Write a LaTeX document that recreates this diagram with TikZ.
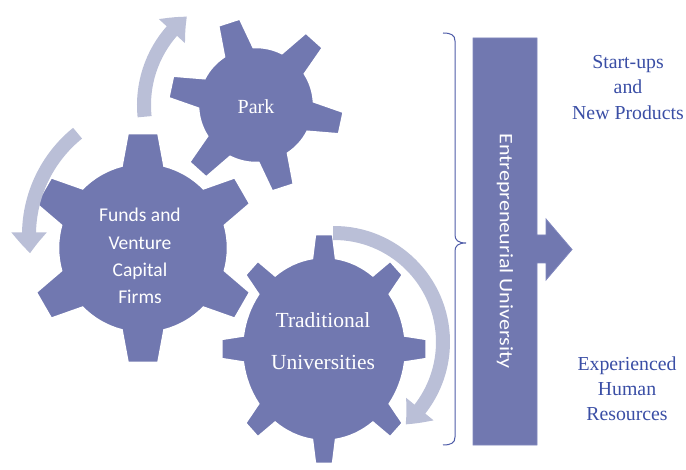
\documentclass[tikz,border=0pt]{standalone}
\usepackage{fontspec}
\setmainfont{Liberation Serif}
\newfontfamily\carlito{Carlito}
\usetikzlibrary{arrows.meta,bending}

\definecolor{gearfill}{RGB}{113,120,176}
\definecolor{gearedge}{RGB}{128,135,190}
\definecolor{softblue}{RGB}{186,191,215}
\definecolor{textblue}{RGB}{58,78,165}
\definecolor{braceblue}{RGB}{78,92,168}

% closed gear outline: #1 teeth, #2 rotation, #3 body radius,
% #4 tip radius, #5 half angle of a tooth at its base, #6 half angle at its tip
\newcommand\gearpath[6]{%
  ({#2-#5}:#3)
  \foreach \k in {1,...,#1}{
    -- ({#2+(\k-1)*360/#1-#6}:#4)
    -- ({#2+(\k-1)*360/#1+#6}:#4)
    -- ({#2+(\k-1)*360/#1+#5}:#3)
    arc[start angle={#2+(\k-1)*360/#1+#5}, end angle={#2+\k*360/#1-#5}, radius=#3]
  } -- cycle
}

\tikzset{
  gear/.style={fill=gearfill, draw=white, line width=2.5pt, line join=miter},
  turnarrow/.style={draw=softblue, line width=14pt,
    -{Triangle[width=34pt,length=21pt,bend]}},
  serifwhite/.style={text=white, align=center},
  sanswhite/.style={text=white, align=center, font=\carlito\fontsize{19.5}{27.3}\selectfont},
  outtext/.style={text=textblue, align=center, font=\rmfamily\fontsize{19.8}{25.2}\selectfont},
}

\begin{document}
\begin{tikzpicture}[x=1pt,y=1pt]
\useasboundingbox (0,0) rectangle (686,469);

% gear centres
\coordinate (parkc) at (256,364);
\coordinate (fundsc) at (143,221);
\coordinate (tradc) at (324,120);

% the three gears
\fill[gear, shift={(parkc)}] \gearpath{6}{-12}{58}{88}{15.5}{7.5};
\fill[gear, shift={(fundsc)}] \gearpath{6}{30}{85}{116}{14.6}{7.6};
\fill[gear, shift={(tradc)}, yscale=1.12] \gearpath{8}{0}{82}{103}{8.4}{5};

% rotation arrows around the gears
\draw[turnarrow] ([shift={(186:112)}]parkc) arc[start angle=186, end angle=128, radius=112];
\draw[turnarrow] ([shift={(129:131)}]160,234) arc[start angle=129, end angle=188, radius=131];
\draw[turnarrow] ([shift={(90.5:109)}]334,127) arc[start angle=90.5, end angle=-49, radius=109];

% gear labels
\node[serifwhite, font=\rmfamily\fontsize{20}{24}\selectfont] (park) at (256,362) {Park};
\node[sanswhite] (funds) at (140,213) {Funds and\\Venture\\Capital\\Firms};
\node[serifwhite, font=\rmfamily\fontsize{21.5}{42}\selectfont] (trad) at (323,128) {Traditional\\Universities};

% brace gathering the gears
\draw[braceblue, line width=1pt]
  (443,436) .. controls (451,436) and (455,434) .. (455,428)
  -- (455,234) .. controls (455,229) and (458,226) .. (466,226)
  .. controls (458,226) and (455,223) .. (455,218)
  -- (455,32) .. controls (455,26) and (451,24) .. (443,24);

% entrepreneurial university bar with its outgoing arrow
\fill[fill=gearfill, draw=gearedge, line width=0.8pt]
  (473,431) -- (537,431) -- (537,234) -- (546,234) -- (546,250)
  -- (572,219.5) -- (546,189) -- (546,206) -- (537,206)
  -- (537,24) -- (473,24) -- cycle;
\node[rotate=-90, text=white, font=\carlito\fontsize{19}{22}\selectfont] (eu) at (505,218)
  {\scalebox{1.16}[1]{Entrepreneurial University}};

% outcomes
\node[outtext] (startups) at (628,381.5) {Start-ups\\and\\New Products};
\node[outtext] (human) at (627,80) {Experienced\\Human\\Resources};
\end{tikzpicture}
\end{document}
